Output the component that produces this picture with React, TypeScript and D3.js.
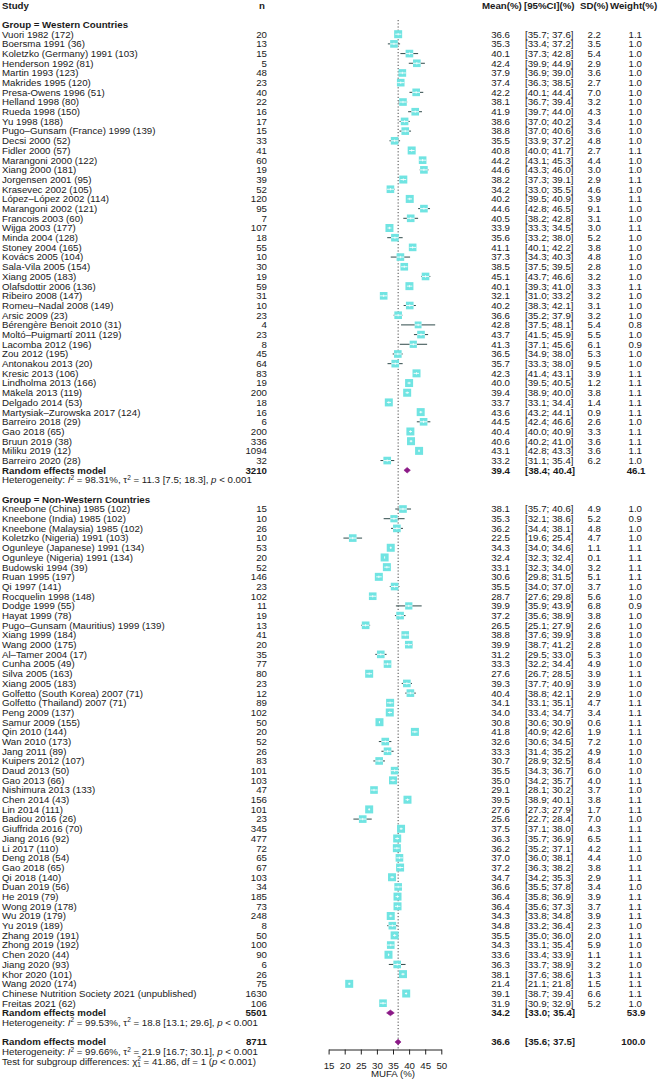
import React, { useEffect, useRef } from "react";
import * as d3 from "d3";

// ---------------- DATA ----------------
const westernStudies = [
  "Vuori 1982 (172)", "Boersma 1991 (36)", "Koletzko (Germany) 1991 (103)", "Henderson 1992 (81)",
  "Martin 1993 (123)", "Makrides 1995 (120)", "Presa-Owens 1996 (51)", "Helland 1998 (80)",
  "Rueda 1998 (150)", "Yu 1998 (188)", "Pugo\u2013Gunsam (France) 1999 (139)", "Decsi 2000 (52)",
  "Fidler 2000 (57)", "Marangoni 2000 (122)", "Xiang 2000 (181)", "Jorgensen 2001 (95)",
  "Krasevec 2002 (105)", "López\u2013López 2002 (114)", "Marangoni 2002 (121)", "Francois 2003 (60)",
  "Wijga 2003 (177)", "Minda 2004 (128)", "Stoney 2004 (165)", "Kovács 2005 (104)",
  "Sala-Vila 2005 (154)", "Xiang 2005 (183)", "Olafsdottir 2006 (136)", "Ribeiro 2008 (147)",
  "Romeu\u2013Nadal 2008 (149)", "Arsic 2009 (23)", "Bérengère Benoit 2010 (31)", "Moltó\u2013Puigmartí 2011 (129)",
  "Lacomba 2012 (196)", "Zou 2012 (195)", "Antonakou 2013 (20)", "Kresic 2013 (106)",
  "Lindholma 2013 (166)", "Mäkelä 2013 (119)", "Delgado 2014 (53)", "Martysiak\u2013Zurowska 2017 (124)",
  "Barreiro 2018 (29)", "Gao 2018 (65)", "Bruun 2019 (38)", "Miliku 2019 (12)", "Barreiro 2020 (28)",
];
const westernN = [20, 13, 15, 5, 48, 23, 40, 22, 16, 17, 15, 33, 41, 60, 19, 39, 52, 120, 95, 7, 107, 18, 55, 10, 30, 19, 59, 31, 10, 23, 4, 23, 8, 45, 64, 83, 19, 200, 18, 16, 6, 200, 336, 1094, 32];
const westernMean = [36.6, 35.3, 40.1, 42.4, 37.9, 37.4, 42.2, 38.1, 41.9, 38.6, 38.8, 35.5, 40.8, 44.2, 44.6, 38.2, 34.2, 40.2, 44.6, 40.5, 33.9, 35.6, 41.1, 37.3, 38.5, 45.1, 40.1, 32.1, 40.2, 36.6, 42.8, 43.7, 41.3, 36.5, 35.7, 42.3, 40.0, 39.4, 33.7, 43.6, 44.5, 40.4, 40.6, 43.1, 33.2];
const westernLower = [35.7, 33.4, 37.3, 39.9, 36.9, 36.3, 40.1, 36.7, 39.7, 37.0, 37.0, 33.9, 40.0, 43.1, 43.3, 37.3, 33.0, 39.5, 42.8, 38.2, 33.3, 33.2, 40.1, 34.3, 37.5, 43.7, 39.3, 31.0, 38.3, 35.2, 37.5, 41.5, 37.1, 34.9, 33.3, 41.4, 39.5, 38.9, 33.1, 43.2, 42.4, 40.0, 40.2, 42.8, 31.1];
const westernUpper = [37.6, 37.2, 42.8, 44.9, 39.0, 38.5, 44.4, 39.4, 44.0, 40.2, 40.6, 37.2, 41.7, 45.3, 46.0, 39.1, 35.5, 40.9, 46.5, 42.8, 34.5, 38.0, 42.2, 40.3, 39.5, 46.6, 41.0, 33.2, 42.1, 37.9, 48.1, 45.9, 45.6, 38.0, 38.0, 43.1, 40.5, 40.0, 34.4, 44.1, 46.6, 40.9, 41.0, 43.3, 35.4];
const westernSD = [2.2, 3.5, 5.4, 2.9, 3.6, 2.7, 7.0, 3.2, 4.3, 3.4, 3.6, 4.8, 2.7, 4.4, 3.0, 2.9, 4.6, 3.9, 9.1, 3.1, 3.0, 5.2, 3.8, 4.8, 2.8, 3.2, 3.3, 3.2, 3.1, 3.2, 5.4, 5.5, 6.1, 5.3, 9.5, 3.9, 1.2, 3.8, 1.4, 0.9, 2.6, 3.3, 3.6, 3.6, 6.2];
const westernWeight = [1.1, 1.0, 1.0, 1.0, 1.0, 1.0, 1.0, 1.0, 1.0, 1.0, 1.0, 1.0, 1.1, 1.0, 1.0, 1.1, 1.0, 1.1, 1.0, 1.0, 1.1, 1.0, 1.0, 1.0, 1.0, 1.0, 1.1, 1.0, 1.0, 1.0, 0.8, 1.0, 0.9, 1.0, 1.0, 1.1, 1.1, 1.1, 1.1, 1.1, 1.0, 1.1, 1.1, 1.1, 1.0];

const nonWesternStudies = [
  "Kneebone (China) 1985 (102)", "Kneebone (India) 1985 (102)", "Kneebone (Malaysia) 1985 (102)", "Koletzko (Nigeria) 1991 (103)",
  "Ogunleye (Japanese) 1991 (134)", "Ogunleye (Nigeria) 1991 (134)", "Budowski 1994 (39)", "Ruan 1995 (197)",
  "Qi 1997 (141)", "Rocquelin 1998 (148)", "Dodge 1999 (55)", "Hayat 1999 (78)",
  "Pugo\u2013Gunsam (Mauritius) 1999 (139)", "Xiang 1999 (184)", "Wang 2000 (175)", "Al\u2013Tamer 2004 (17)",
  "Cunha 2005 (49)", "Silva 2005 (163)", "Xiang 2005 (183)", "Golfetto (South Korea) 2007 (71)",
  "Golfetto (Thailand) 2007 (71)", "Peng 2009 (137)", "Samur 2009 (155)", "Qin 2010 (144)",
  "Wan 2010 (173)", "Jang 2011 (89)", "Kuipers 2012 (107)", "Daud 2013 (50)",
  "Gao 2013 (66)", "Nishimura 2013 (133)", "Chen 2014 (43)", "Lin 2014 (111)",
  "Badiou 2016 (26)", "Giuffrida 2016 (70)", "Jiang 2016 (92)", "Li 2017 (110)",
  "Deng 2018 (54)", "Gao 2018 (65)", "Qi 2018 (140)", "Duan 2019 (56)",
  "He 2019 (79)", "Wong 2019 (178)", "Wu 2019 (179)", "Yu 2019 (189)",
  "Zhang 2019 (191)", "Zhong 2019 (192)", "Chen 2020 (44)", "Jiang 2020 (93)",
  "Khor 2020 (101)", "Wang 2020 (174)", "Chinese Nutrition Society 2021 (unpublished)", "Freitas 2021 (62)",
];
const nonWesternN = [15, 10, 26, 10, 53, 20, 52, 146, 23, 102, 11, 19, 13, 41, 20, 35, 77, 80, 23, 12, 89, 102, 50, 20, 52, 26, 83, 101, 103, 47, 156, 101, 23, 345, 477, 72, 65, 67, 103, 34, 185, 73, 248, 8, 50, 100, 90, 6, 26, 75, 1630, 106];
const nonWesternMean = [38.1, 35.3, 36.2, 22.5, 34.3, 32.4, 33.1, 30.6, 35.5, 28.7, 39.9, 37.2, 26.5, 38.8, 39.9, 31.2, 33.3, 27.6, 39.3, 40.4, 34.1, 34.0, 30.8, 41.8, 32.6, 33.3, 30.7, 35.5, 35.0, 29.1, 39.5, 27.6, 25.6, 37.5, 36.3, 36.2, 37.0, 37.2, 34.7, 36.6, 36.4, 36.4, 34.3, 34.8, 35.5, 34.3, 33.6, 36.3, 38.1, 21.4, 39.1, 31.9];
const nonWesternLower = [35.7, 32.1, 34.4, 19.6, 34.0, 32.3, 32.3, 29.8, 34.0, 27.6, 35.9, 35.6, 25.1, 37.6, 38.7, 29.5, 32.2, 26.7, 37.7, 38.8, 33.1, 33.4, 30.6, 40.9, 30.6, 31.4, 28.9, 34.3, 34.2, 28.1, 38.9, 27.3, 22.7, 37.1, 35.7, 35.2, 36.0, 36.3, 34.2, 35.5, 35.8, 35.6, 33.8, 33.2, 35.0, 33.1, 33.4, 33.7, 37.6, 21.1, 38.7, 30.9];
const nonWesternUpper = [40.6, 38.6, 38.1, 25.4, 34.6, 32.4, 34.0, 31.5, 37.0, 29.8, 43.9, 38.9, 27.9, 39.9, 41.2, 33.0, 34.4, 28.5, 40.9, 42.1, 35.1, 34.7, 30.9, 42.6, 34.5, 35.2, 32.5, 36.7, 35.7, 30.2, 40.1, 27.9, 28.4, 38.0, 36.9, 37.1, 38.1, 38.2, 35.3, 37.8, 36.9, 37.3, 34.8, 36.4, 36.0, 35.4, 33.9, 38.9, 38.6, 21.8, 39.4, 32.9];
const nonWesternSD = [4.9, 5.2, 4.8, 4.7, 1.1, 0.1, 3.2, 5.1, 3.7, 5.6, 6.8, 3.8, 2.6, 3.8, 2.8, 5.3, 4.9, 3.9, 3.9, 2.9, 4.7, 3.4, 0.6, 1.9, 7.2, 4.9, 8.4, 6.0, 4.0, 3.7, 3.8, 1.7, 7.0, 4.3, 6.5, 4.2, 4.4, 3.8, 2.9, 3.4, 3.9, 3.7, 3.9, 2.3, 2.0, 5.9, 1.1, 3.2, 1.3, 1.5, 6.6, 5.2];
const nonWesternWeight = [1.0, 0.9, 1.0, 1.0, 1.1, 1.1, 1.1, 1.1, 1.0, 1.0, 0.9, 1.0, 1.0, 1.0, 1.0, 1.0, 1.0, 1.1, 1.0, 1.0, 1.1, 1.1, 1.1, 1.1, 1.0, 1.0, 1.0, 1.0, 1.1, 1.0, 1.1, 1.1, 1.0, 1.1, 1.1, 1.1, 1.0, 1.1, 1.1, 1.0, 1.1, 1.1, 1.1, 1.0, 1.1, 1.0, 1.1, 1.0, 1.1, 1.1, 1.1, 1.0];

// pooled (Western, Non-Western, Overall)
const summaryN = [3210, 5501, 8711];
const summaryMean = [39.4, 34.2, 36.6];
const summaryLower = [38.4, 33.0, 35.6];
const summaryUpper = [40.4, 35.4, 37.5];
const summaryWeight = [46.1, 53.9, 100.0];
const hetI2 = ["98.31%", "99.53%", "99.66%"];
const hetTau2 = ["11.3", "18.8", "21.9"];
const hetTauCI = ["7.5; 18.3", "13.1; 29.6", "16.7; 30.1"];

const axisTicks = [15, 20, 25, 30, 35, 40, 45, 50];
const groupLabels = ["Group = Western Countries", "Group = Non-Western Countries"];

// ---------------- STYLE ----------------
const FONT = "'Liberation Sans', Arial, Helvetica, sans-serif";
const FS = 9.7;
const TXT = "#1a1a1a";
const SQ = "#70e4e2";
const CI_COL = "#2f4a4a";
const DIA = "#8b1a87";

const ROW0 = 34.2;
const PITCH = 9.69;
const rowY = (i: number) => ROW0 + i * PITCH;

const X_STUDY = 2;
const X_N = 267;
const X_MEAN = 510;
const X_CI = 525;
const X_SD = 601;
const X_W = 642;
const AXIS_Y = 1049.5;

type Study = { name: string; n: number; m: number; lo: number; hi: number; sd: number; w: number; row: number };

function buildRows(names: string[], n: number[], m: number[], lo: number[], hi: number[], sd: number[], w: number[], start: number): Study[] {
  return names.map((name, i) => ({ name, n: n[i], m: m[i], lo: lo[i], hi: hi[i], sd: sd[i], w: w[i], row: start + i }));
}

const T = (props: any) => (
  <text fontFamily={FONT} fontSize={FS} fill={TXT} dy="0.35em" {...props} />
);

function Het({ y, k }: { y: number; k: number }) {
  return (
    <T x={X_STUDY} y={y}>
      {"Heterogeneity: "}
      <tspan fontStyle="italic">I</tspan>
      <tspan dy={-3.5} fontSize={6.5}>2</tspan>
      <tspan dy={3.5}>{" = " + hetI2[k] + ", \u03c4"}</tspan>
      <tspan dy={-3.5} fontSize={6.5}>2</tspan>
      <tspan dy={3.5}>{" = " + hetTau2[k] + " [" + hetTauCI[k] + "], "}</tspan>
      <tspan fontStyle="italic">p</tspan>
      <tspan>{" < 0.001"}</tspan>
    </T>
  );
}

export default function App() {
  const axisRef = useRef<SVGGElement | null>(null);
  const x = d3.scaleLinear().domain([15, 50]).range([328.6, 441.3]);

  useEffect(() => {
    if (!axisRef.current) return;
    const g = d3.select(axisRef.current);
    g.selectAll("*").remove();
    g.call(d3.axisBottom(x).tickValues(axisTicks).tickSize(5).tickPadding(7.5).tickSizeOuter(0) as any);
    g.attr("font-family", FONT).attr("font-size", FS);
    g.select(".domain").attr("stroke", "#222");
    g.selectAll(".tick line").attr("stroke", "#222");
    g.selectAll(".tick text").attr("fill", TXT);
  }, []);

  const western = buildRows(westernStudies, westernN, westernMean, westernLower, westernUpper, westernSD, westernWeight, 0);
  const nonWestern = buildRows(nonWesternStudies, nonWesternN, nonWesternMean, nonWesternLower, nonWesternUpper, nonWesternSD, nonWesternWeight, 49);
  const studies = [...western, ...nonWestern];

  const summaryRows = [45, 101, 104];
  const hetRows = [46, 102, 105];
  const groupRows = [-1, 48];

  const refX = x(summaryMean[2]);

  return (
    <svg width={660} height={1081} style={{ position: "absolute", left: 0, top: 0, background: "#fff" }}>
      {/* headers */}
      <T x={X_STUDY} y={5.8} fontWeight="bold">Study</T>
      <T x={265} y={5.8} fontWeight="bold" textAnchor="end">n</T>
      <T x={482} y={5.8} fontWeight="bold">Mean(%)</T>
      <T x={524} y={5.8} fontWeight="bold">[95%CI](%)</T>
      <T x={580} y={5.8} fontWeight="bold">SD(%)</T>
      <T x={610} y={5.8} fontWeight="bold">Weight(%)</T>

      {/* group labels */}
      {groupRows.map((r, i) => (
        <T key={"g" + i} x={X_STUDY} y={rowY(r)} fontWeight="bold">{groupLabels[i]}</T>
      ))}

      {/* reference line */}
      <line x1={refX} x2={refX} y1={20} y2={AXIS_Y} stroke="#333" strokeWidth={0.9} strokeDasharray="1.2,2" />

      {/* studies */}
      {studies.map((s, i) => {
        const y = rowY(s.row);
        const cx = x(s.m);
        const side = 8 * Math.sqrt(s.w / 1.1);
        const sl = cx - side / 2;
        const sr = cx + side / 2;
        const xl = x(s.lo);
        const xh = x(s.hi);
        return (
          <g key={"s" + i}>
            <T x={X_STUDY} y={y}>{s.name}</T>
            <T x={X_N} y={y} textAnchor="end">{s.n}</T>
            <T x={X_MEAN} y={y} textAnchor="end">{s.m.toFixed(1)}</T>
            <T x={X_CI} y={y}>{"[" + s.lo.toFixed(1) + "; " + s.hi.toFixed(1) + "]"}</T>
            <T x={X_SD} y={y} textAnchor="end">{s.sd.toFixed(1)}</T>
            <T x={X_W} y={y} textAnchor="end">{s.w.toFixed(1)}</T>
            <rect x={sl} y={y - side / 2} width={side} height={side} fill={SQ} />
            {xl < sl && <line x1={xl} x2={sl} y1={y} y2={y} stroke={CI_COL} strokeWidth={1} />}
            {xh > sr && <line x1={sr} x2={xh} y1={y} y2={y} stroke={CI_COL} strokeWidth={1} />}
            <line x1={Math.max(xl, sl)} x2={Math.min(xh, sr)} y1={y} y2={y} stroke="#ffffff" strokeWidth={0.9} />
            <line x1={cx} x2={cx} y1={y - 1.2} y2={y + 1.2} stroke="#ffffff" strokeWidth={0.8} />
          </g>
        );
      })}

      {/* summaries */}
      {summaryRows.map((r, k) => {
        const y = rowY(r);
        const xl = x(summaryLower[k]);
        const xh = x(summaryUpper[k]);
        const xm = x(summaryMean[k]);
        const h = 2.8;
        const path = `M${xl},${y} L${xm},${y - h} L${xh},${y} L${xm},${y + h} Z`;
        return (
          <g key={"sum" + k}>
            <T x={X_STUDY} y={y} fontWeight="bold">Random effects model</T>
            <T x={X_N} y={y} textAnchor="end" fontWeight="bold">{summaryN[k]}</T>
            <T x={X_MEAN} y={y} textAnchor="end" fontWeight="bold">{summaryMean[k].toFixed(1)}</T>
            <T x={X_CI} y={y} fontWeight="bold">{"[" + summaryLower[k].toFixed(1) + "; " + summaryUpper[k].toFixed(1) + "]"}</T>
            <T x={X_W + 3.5} y={y} textAnchor="end" fontWeight="bold">{summaryWeight[k].toFixed(1)}</T>
            <path d={path} fill={DIA} stroke={DIA} strokeWidth={0.6} />
          </g>
        );
      })}

      {hetRows.map((r, k) => (
        <Het key={"h" + k} y={rowY(r)} k={k} />
      ))}

      {/* test for subgroup differences */}
      <T x={X_STUDY} y={rowY(106)}>
        {"Test for subgroup differences: \u03c7"}
        <tspan dy={-3.5} fontSize={6.5}>2</tspan>
        <tspan dx={-3.6} dy={6} fontSize={6.5}>1</tspan>
        <tspan dy={-2.5}>{" = 41.86, df = 1 ("}</tspan>
        <tspan fontStyle="italic">p</tspan>
        <tspan>{" < 0.001)"}</tspan>
      </T>

      {/* axis */}
      <g ref={axisRef} transform={`translate(0,${AXIS_Y})`} />
      <T x={x(35)} y={1073.5} textAnchor="middle">MUFA (%)</T>
    </svg>
  );
}
